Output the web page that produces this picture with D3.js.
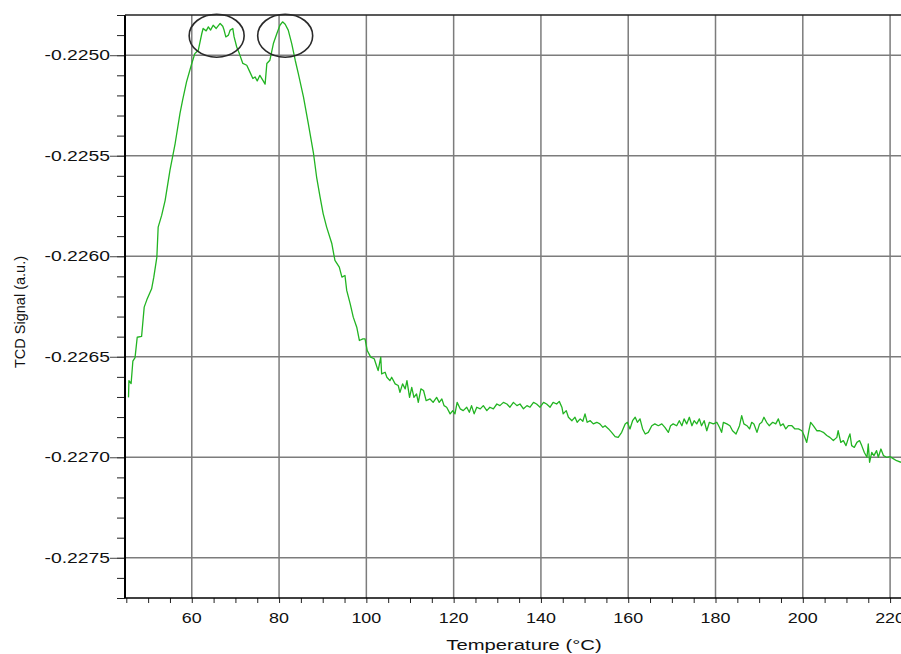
<!DOCTYPE html>
<html>
<head>
<meta charset="utf-8">
<script src="https://cdn.jsdelivr.net/npm/d3@7"></script>
<style>
  html, body { margin: 0; padding: 0; background: #fff; }
  svg { display: block; }
</style>
</head>
<body>
<div id="tcd-chart"></div>
<script>
"use strict";
// TPD / TCD trace
const temperature = [
  45.5, 45.6, 46.1, 46.5, 47.0, 47.5, 48.5, 49.1, 49.7, 50.8, 51.3, 52.0, 52.3, 53.1, 53.9,
  55.0, 56.2, 57.3, 57.9, 58.8, 60.0, 60.7, 61.5, 62.3, 62.6, 63.3, 63.8, 64.3, 64.9, 65.6,
  66.5, 67.1, 67.4, 67.8, 68.4, 68.8, 69.4, 69.7, 70.3, 70.9, 71.7, 72.6, 73.3, 74.0, 74.5,
  75.0, 75.6, 76.3, 76.8, 77.2, 77.9, 78.7, 79.5, 80.2, 80.8, 81.4, 82.1, 82.9, 83.7, 84.4,
  85.6, 86.7, 87.9, 88.6, 89.4, 90.1, 90.9, 92.1, 92.8, 93.8, 94.4, 95.1, 95.5, 96.3, 97.0,
  97.8, 98.4, 99.2, 99.7, 100.2, 101.0, 101.8, 102.7, 103.3, 103.5, 104.3, 104.7, 105.4, 105.8, 106.6,
  107.3, 107.7, 108.3, 108.9, 109.3, 109.9, 110.4, 110.9, 111.5, 111.9, 112.5, 113.1, 113.7, 114.6, 115.3,
  116.1, 116.7, 117.3, 117.8, 118.4, 119.2, 119.8, 120.3, 120.8, 121.5, 122.2, 123.0, 123.6, 124.1, 124.7,
  125.3, 126.1, 126.8, 127.6, 128.3, 129.1, 129.9, 130.6, 131.4, 132.2, 132.9, 133.7, 134.5, 135.2, 136.0,
  136.8, 137.5, 138.3, 139.0, 139.8, 140.6, 141.3, 142.1, 142.8, 143.6, 144.2, 144.8, 145.1, 145.8, 146.3,
  147.1, 147.8, 148.3, 149.0, 149.6, 150.1, 150.6, 151.3, 152.0, 152.8, 153.5, 154.2, 154.7, 155.5, 156.2,
  157.0, 157.7, 158.5, 159.3, 159.8, 160.4, 161.0, 161.6, 162.1, 162.7, 163.3, 163.9, 164.6, 165.4, 166.1,
  166.9, 167.7, 168.4, 169.2, 169.7, 170.3, 171.1, 171.7, 172.3, 172.8, 173.4, 174.0, 174.6, 175.1, 175.7,
  176.3, 176.8, 177.4, 178.0, 178.6, 179.5, 180.3, 180.9, 181.4, 181.8, 182.6, 183.3, 183.9, 184.7, 185.5,
  186.0, 186.5, 187.2, 187.8, 188.3, 188.8, 189.5, 190.1, 190.6, 191.1, 191.7, 192.3, 193.1, 193.8, 194.4,
  194.9, 195.5, 196.1, 196.7, 197.5, 198.2, 199.0, 199.8, 200.3, 200.9, 201.4, 201.8, 202.4, 203.2, 203.9,
  204.7, 205.5, 206.2, 207.0, 207.8, 208.1, 208.7, 209.3, 209.9, 210.5, 210.8, 211.2, 211.8, 212.4, 213.0,
  213.5, 214.1, 214.7, 215.0, 215.3, 215.8, 216.3, 216.9, 217.3, 217.9, 218.5, 219.2, 220.0, 220.8, 221.5,
  222.5
];
const signal = [
  -0.226702, -0.226619, -0.226633, -0.226522, -0.226504, -0.226403, -0.226399, -0.226253, -0.226217, -0.226162, -0.226104, -0.226004, -0.225855, -0.225797, -0.225722,
  -0.225573, -0.225438, -0.225289, -0.225224, -0.225133, -0.225041, -0.224992, -0.224975, -0.224892, -0.224867, -0.224879, -0.224859, -0.224875, -0.224851, -0.224867,
  -0.224842, -0.224856, -0.224875, -0.224909, -0.224900, -0.224875, -0.224867, -0.224909, -0.224959, -0.224992, -0.225041, -0.225050, -0.225083, -0.225116, -0.225108,
  -0.225128, -0.225100, -0.225125, -0.225144, -0.225041, -0.225025, -0.224942, -0.224892, -0.224851, -0.224834, -0.224846, -0.224875, -0.224942, -0.225025, -0.225090,
  -0.225208, -0.225340, -0.225490, -0.225606, -0.225706, -0.225788, -0.225855, -0.225938, -0.226021, -0.226054, -0.226104, -0.226096, -0.226170, -0.226237, -0.226303,
  -0.226353, -0.226419, -0.226411, -0.226411, -0.226469, -0.226502, -0.226510, -0.226569, -0.226502, -0.226585, -0.226577, -0.226602, -0.226619, -0.226602, -0.226635,
  -0.226643, -0.226677, -0.226635, -0.226660, -0.226619, -0.226702, -0.226652, -0.226702, -0.226685, -0.226727, -0.226660, -0.226668, -0.226718, -0.226710, -0.226727,
  -0.226702, -0.226727, -0.226710, -0.226743, -0.226751, -0.226784, -0.226768, -0.226784, -0.226727, -0.226759, -0.226768, -0.226751, -0.226776, -0.226743, -0.226784,
  -0.226751, -0.226759, -0.226743, -0.226768, -0.226751, -0.226759, -0.226735, -0.226743, -0.226727, -0.226735, -0.226751, -0.226727, -0.226743, -0.226735, -0.226759,
  -0.226743, -0.226751, -0.226727, -0.226735, -0.226751, -0.226727, -0.226735, -0.226751, -0.226727, -0.226735, -0.226722, -0.226751, -0.226784, -0.226768, -0.226801,
  -0.226818, -0.226801, -0.226826, -0.226809, -0.226821, -0.226784, -0.226826, -0.226818, -0.226834, -0.226826, -0.226834, -0.226851, -0.226843, -0.226859, -0.226876,
  -0.226897, -0.226901, -0.226876, -0.226834, -0.226826, -0.226859, -0.226818, -0.226801, -0.226826, -0.226809, -0.226859, -0.226884, -0.226876, -0.226843, -0.226834,
  -0.226843, -0.226834, -0.226851, -0.226876, -0.226843, -0.226834, -0.226843, -0.226818, -0.226843, -0.226809, -0.226834, -0.226801, -0.226843, -0.226818, -0.226834,
  -0.226809, -0.226843, -0.226818, -0.226868, -0.226826, -0.226834, -0.226826, -0.226851, -0.226876, -0.226826, -0.226834, -0.226843, -0.226868, -0.226884, -0.226843,
  -0.226793, -0.226834, -0.226843, -0.226859, -0.226826, -0.226834, -0.226876, -0.226834, -0.226826, -0.226801, -0.226826, -0.226843, -0.226826, -0.226834, -0.226809,
  -0.226843, -0.226834, -0.226859, -0.226843, -0.226843, -0.226859, -0.226859, -0.226868, -0.226892, -0.226926, -0.226868, -0.226826, -0.226843, -0.226868, -0.226868,
  -0.226876, -0.226892, -0.226901, -0.226917, -0.226901, -0.226868, -0.226926, -0.226917, -0.226942, -0.226901, -0.226884, -0.226942, -0.226951, -0.226926, -0.226917,
  -0.226942, -0.226976, -0.227000, -0.226934, -0.227025, -0.226976, -0.226992, -0.226967, -0.227000, -0.226959, -0.226992, -0.227000, -0.226997, -0.227008, -0.227017,
  -0.227025
];
// axis ticks
const xTicks = [60, 80, 100, 120, 140, 160, 180, 200, 220];
const yTicks = [-0.2250, -0.2255, -0.2260, -0.2265, -0.2270, -0.2275];
// the two circled peaks (centre temperature / signal)
const peakT = [65.7, 81.4];
const peakV = [-0.224903, -0.224903];

function createTcdChart(containerId) {
    const width = 901, height = 654;
    const left = 125, top = 15, bottom = 598, right = 901;

    const svg = d3.select(`#${containerId}`)
        .append("svg")
        .attr("width", width)
        .attr("height", height)
        .style("font-family", "'Liberation Sans', Arial, sans-serif");

    const x = d3.scaleLinear().domain([44.7, 222.5]).range([left, right]);
    const y = d3.scaleLinear().domain([-0.2277, -0.2248]).range([bottom, top]);

    // grid
    svg.append("g")
        .selectAll("line")
        .data(xTicks)
        .enter().append("line")
        .attr("x1", d => x(d)).attr("x2", d => x(d))
        .attr("y1", top).attr("y2", bottom)
        .attr("stroke", "#7c7c7c").attr("stroke-width", 1.5);
    svg.append("g")
        .selectAll("line")
        .data(yTicks)
        .enter().append("line")
        .attr("x1", left).attr("x2", right)
        .attr("y1", d => y(d)).attr("y2", d => y(d))
        .attr("stroke", "#7c7c7c").attr("stroke-width", 1.5);

    // minor ticks through d3 axes (labels drawn separately)
    const minorX = d3.range(45, 223, 5);
    const minorY = d3.range(-0.2277, -0.22479, 0.0001);
    svg.append("g")
        .attr("transform", `translate(0,${bottom})`)
        .call(d3.axisBottom(x).tickValues(minorX).tickSize(5).tickFormat(""))
        .call(g => g.select(".domain").remove())
        .selectAll("line").attr("stroke", "#222");
    svg.append("g")
        .attr("transform", `translate(${left},0)`)
        .call(d3.axisLeft(y).tickValues(minorY).tickSize(8).tickFormat(""))
        .call(g => g.select(".domain").remove())
        .selectAll("line").attr("stroke", "#222");
    svg.append("g")
        .attr("transform", `translate(${left},0)`)
        .call(d3.axisLeft(y).tickValues(yTicks).tickSize(15).tickFormat(""))
        .call(g => g.select(".domain").remove())
        .selectAll("line").attr("stroke", "#444");

    // frame: left axis, bottom axis, top border
    svg.append("line").attr("x1", left).attr("x2", left).attr("y1", top).attr("y2", bottom)
        .attr("stroke", "#000").attr("stroke-width", 2);
    svg.append("line").attr("x1", left).attr("x2", right).attr("y1", bottom).attr("y2", bottom)
        .attr("stroke", "#000").attr("stroke-width", 1.6);
    svg.append("line").attr("x1", left).attr("x2", right).attr("y1", top).attr("y2", top)
        .attr("stroke", "#222").attr("stroke-width", 1.6);

    // tick labels (picture is stretched horizontally, so are the glyphs)
    svg.append("g")
        .selectAll("text")
        .data(yTicks)
        .enter().append("text")
        .attr("transform", d => `translate(110,${y(d)}) scale(1.38,1)`)
        .attr("dy", "0.36em")
        .attr("text-anchor", "end")
        .attr("font-size", 14)
        .attr("fill", "#111")
        .text(d => d.toFixed(4));
    svg.append("g")
        .selectAll("text")
        .data(xTicks)
        .enter().append("text")
        .attr("transform", d => `translate(${x(d)},623) scale(1.28,1)`)
        .attr("text-anchor", "middle")
        .attr("font-size", 14)
        .attr("fill", "#111")
        .text(d => d);

    // axis titles
    svg.append("text")
        .attr("transform", "translate(524,650) scale(1.35,1)")
        .attr("text-anchor", "middle")
        .attr("font-size", 15)
        .attr("fill", "#111")
        .text("Temperature (°C)");
    svg.append("text")
        .attr("transform", "translate(25,312) rotate(-90)")
        .attr("text-anchor", "middle")
        .attr("font-size", 14.5)
        .attr("fill", "#111")
        .text("TCD Signal (a.u.)");

    // signal trace
    svg.append("clipPath").attr("id", "plot-clip")
        .append("rect").attr("x", left).attr("y", top)
        .attr("width", right - left).attr("height", bottom - top);
    const line = d3.line()
        .x(i => x(temperature[i]))
        .y(i => y(signal[i]));
    svg.append("path")
        .datum(d3.range(temperature.length))
        .attr("clip-path", "url(#plot-clip)")
        .attr("d", line)
        .attr("fill", "none")
        .attr("stroke", "#22b422")
        .attr("stroke-width", 1.3)
        .attr("stroke-linejoin", "round");

    // circled peaks
    svg.append("g")
        .selectAll("ellipse")
        .data(peakT)
        .enter().append("ellipse")
        .attr("cx", d => x(d))
        .attr("cy", (d, i) => y(peakV[i]))
        .attr("rx", 27.5)
        .attr("ry", 21.5)
        .attr("fill", "none")
        .attr("stroke", "#2a2a2a")
        .attr("stroke-width", 1.6);

    if (svg.empty()) {
        console.error("Failed to create SVG element.");
    }
}

document.addEventListener('DOMContentLoaded', () => {
    createTcdChart("tcd-chart");
});
</script>
</body>
</html>
